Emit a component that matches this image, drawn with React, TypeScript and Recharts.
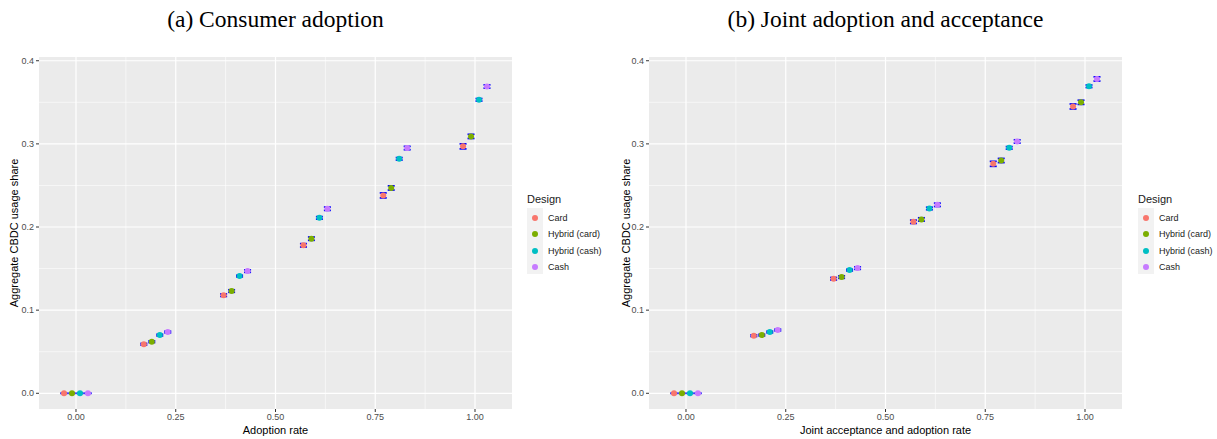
import React from 'react';
import { ScatterChart, Scatter, XAxis, YAxis, CartesianGrid, ErrorBar } from 'recharts';

// Group positions and dodge offsets (position_dodge)
const groups = [0, 0.2, 0.4, 0.6, 0.8, 1.0];
const dodge = [-0.03, -0.01, 0.01, 0.03];
const designs = ['Card', 'Hybrid (card)', 'Hybrid (cash)', 'Cash'];
const colors = ['#F8766D', '#7CAE00', '#00BFC4', '#C77CFF'];

// Panel (a): Consumer adoption
const cardA = [0, 0.059, 0.118, 0.178, 0.238, 0.297];
const hybridCardA = [0, 0.062, 0.123, 0.186, 0.247, 0.309];
const hybridCashA = [0, 0.07, 0.141, 0.211, 0.282, 0.353];
const cashA = [0, 0.0737, 0.147, 0.222, 0.295, 0.369];
const cardAErr = [0.0002, 0.001, 0.0015, 0.002, 0.003, 0.003];
const hybridCardAErr = [0.0002, 0.001, 0.0015, 0.002, 0.0025, 0.0025];
const hybridCashAErr = [0.0002, 0.001, 0.001, 0.0015, 0.0015, 0.0015];
const cashAErr = [0.0002, 0.001, 0.0015, 0.002, 0.002, 0.002];

// Panel (b): Joint adoption and acceptance
const cardB = [0, 0.0693, 0.1378, 0.2063, 0.276, 0.345];
const hybridCardB = [0, 0.07, 0.1398, 0.2091, 0.28, 0.35];
const hybridCashB = [0, 0.0737, 0.1482, 0.2223, 0.2952, 0.3693];
const cashB = [0, 0.0761, 0.1506, 0.2267, 0.3029, 0.3781];
const cardBErr = [0.0002, 0.001, 0.0015, 0.002, 0.003, 0.003];
const hybridCardBErr = [0.0002, 0.001, 0.0015, 0.002, 0.0025, 0.0025];
const hybridCashBErr = [0.0002, 0.001, 0.001, 0.0015, 0.0015, 0.0015];
const cashBErr = [0.0002, 0.001, 0.0015, 0.002, 0.002, 0.0025];

const xTicks = [0, 0.25, 0.5, 0.75, 1.0];
const xMinor = [0.125, 0.375, 0.625, 0.875];
const yTicks = [0, 0.1, 0.2, 0.3, 0.4];
const yMinor = [0.05, 0.15, 0.25, 0.35];
const xDomain = [-0.0927, 1.0927];
const yDomain = [-0.0189, 0.4045];

const build = (vals: number[], errs: number[], k: number) =>
  groups.map((g, i) => ({ x: g + dodge[k], y: vals[i], err: errs[i] }));

const seriesA = [
  build(cardA, cardAErr, 0),
  build(hybridCardA, hybridCardAErr, 1),
  build(hybridCashA, hybridCashAErr, 2),
  build(cashA, cashAErr, 3),
];
const seriesB = [
  build(cardB, cardBErr, 0),
  build(hybridCardB, hybridCardBErr, 1),
  build(hybridCashB, hybridCashBErr, 2),
  build(cashB, cashBErr, 3),
];

const SANS = '"Liberation Sans", Arial, sans-serif';
const SERIF = '"Liberation Serif", "Times New Roman", serif';

const tickStyle = { fill: '#4D4D4D', fontSize: 9, fontFamily: SANS };

function Panel({ series, width, right }: { series: any[]; width: number; right: number }) {
  return (
    <ScatterChart width={width} height={439} margin={{ top: 57, right, bottom: 0, left: 0 }}>
      <CartesianGrid
        fill="#EBEBEB"
        stroke="#FFFFFF"
        strokeWidth={0.6}
        verticalValues={xMinor}
        horizontalValues={yMinor}
      />
      <CartesianGrid fill="none" stroke="#FFFFFF" strokeWidth={1.2} verticalValues={xTicks} horizontalValues={yTicks} />
      <XAxis
        type="number"
        dataKey="x"
        domain={xDomain}
        allowDataOverflow
        ticks={xTicks}
        tickFormatter={(v: number) => v.toFixed(2)}
        axisLine={false}
        tickLine={{ stroke: '#333333' }}
        tickSize={3}
        tick={tickStyle}
        height={30}
        interval={0}
      />
      <YAxis
        type="number"
        dataKey="y"
        domain={yDomain}
        allowDataOverflow
        ticks={yTicks}
        tickFormatter={(v: number) => v.toFixed(1)}
        axisLine={false}
        tickLine={{ stroke: '#333333' }}
        tickSize={3}
        tick={tickStyle}
        width={39}
        interval={0}
      />
      {series.map((d, k) => (
        <Scatter
          key={'p' + k}
          data={d}
          isAnimationActive={false}
          shape={(p: any) => <circle cx={p.cx} cy={p.cy} r={3} fill={colors[k]} />}
        />
      ))}
      {series.map((d, k) => (
        <Scatter key={'e' + k} data={d} isAnimationActive={false} shape={() => <g />}>
          <ErrorBar dataKey="err" direction="y" width={3.5} stroke="#0000FF" strokeWidth={1.7} isAnimationActive={false} />
        </Scatter>
      ))}
    </ScatterChart>
  );
}

function Legend({ left }: { left: number }) {
  return (
    <div style={{ position: 'absolute', left, top: 192, fontFamily: SANS }}>
      <div style={{ fontSize: 11, color: '#1A1A1A', lineHeight: '14px' }}>Design</div>
      <div style={{ position: 'absolute', left: 0, top: 16, width: 16, height: 66, background: '#F2F2F2' }} />
      {designs.map((name, k) => (
        <div key={name} style={{ position: 'absolute', left: 0, top: 18 + k * 16.3, height: 16, display: 'flex', alignItems: 'center' }}>
          <div style={{ width: 16, display: 'flex', justifyContent: 'center' }}>
            <div style={{ width: 6, height: 6, borderRadius: 3, background: colors[k] }} />
          </div>
          <div style={{ marginLeft: 5, fontSize: 9, color: '#1A1A1A', whiteSpace: 'nowrap' }}>{name}</div>
        </div>
      ))}
    </div>
  );
}

function Centered({ x, y, children, style }: { x: number; y: number; children: React.ReactNode; style: any }) {
  return (
    <div
      style={{
        position: 'absolute',
        left: x,
        top: y,
        transform: 'translate(-50%, -50%)',
        whiteSpace: 'nowrap',
        ...style,
      }}
    >
      {children}
    </div>
  );
}

function YTitle({ x, y }: { x: number; y: number }) {
  return (
    <div
      style={{
        position: 'absolute',
        left: x,
        top: y,
        transform: 'translate(-50%, -50%) rotate(-90deg)',
        whiteSpace: 'nowrap',
        fontFamily: SANS,
        fontSize: 11,
        color: '#000',
      }}
    >
      Aggregate CBDC usage share
    </div>
  );
}

export default function App() {
  return (
    <div style={{ position: 'absolute', left: 0, top: 0, width: 1217, height: 439, background: '#fff', overflow: 'hidden' }}>
      <div style={{ position: 'absolute', left: 0, top: 0 }}>
        <Panel series={seriesA} width={600} right={88} />
      </div>
      <div style={{ position: 'absolute', left: 610, top: 0 }}>
        <Panel series={seriesB} width={607} right={95} />
      </div>
      <Centered x={275.5} y={19} style={{ fontFamily: SERIF, fontSize: 23.5, color: '#000' }}>
        (a) Consumer adoption
      </Centered>
      <Centered x={885.5} y={19} style={{ fontFamily: SERIF, fontSize: 23.5, color: '#000' }}>
        (b) Joint adoption and acceptance
      </Centered>
      <Centered x={275.5} y={430} style={{ fontFamily: SANS, fontSize: 11, color: '#000' }}>
        Adoption rate
      </Centered>
      <Centered x={885.5} y={430} style={{ fontFamily: SANS, fontSize: 11, color: '#000' }}>
        Joint acceptance and adoption rate
      </Centered>
      <YTitle x={14} y={233} />
      <YTitle x={626} y={233} />
      <Legend left={527} />
      <Legend left={1138} />
    </div>
  );
}
